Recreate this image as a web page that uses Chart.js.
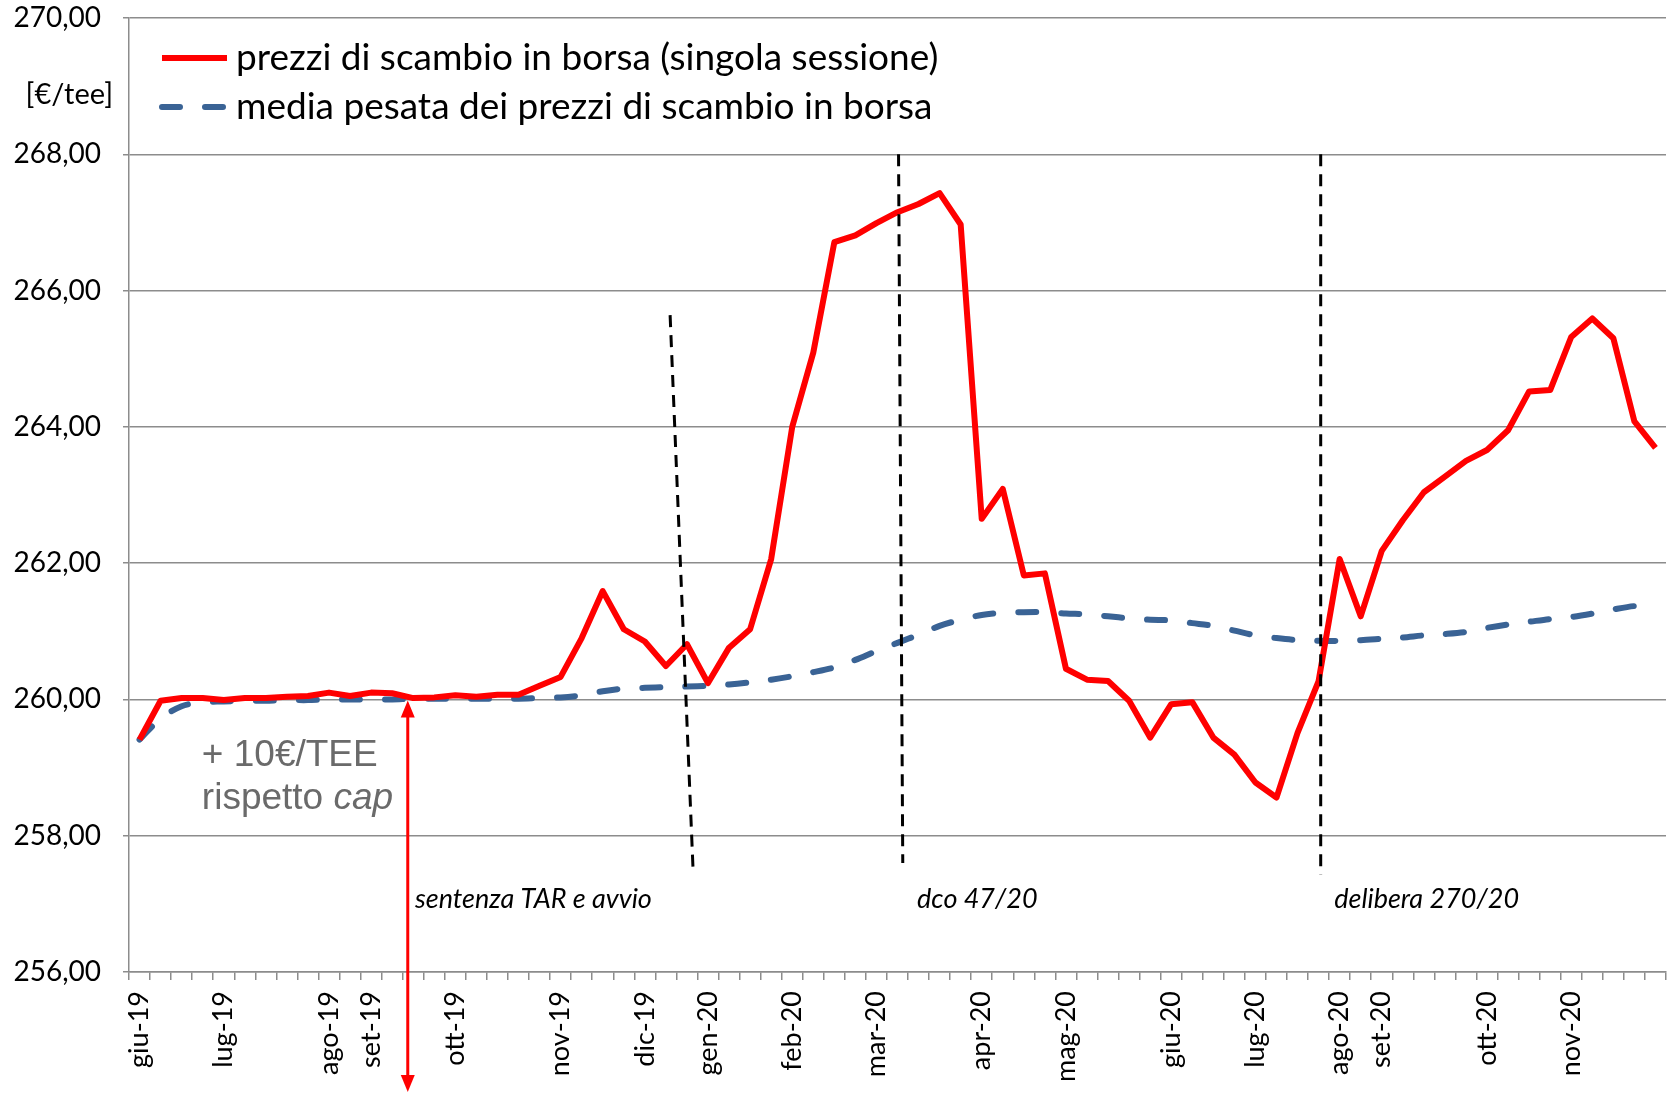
<!DOCTYPE html>
<html>
<head>
<meta charset="utf-8">
<script src="https://cdn.jsdelivr.net/npm/chart.js@4.4.1/dist/chart.umd.min.js"></script>
<style>
  html, body { margin: 0; padding: 0; background: #fff; }
  #wrap { width: 1669px; height: 1093px; }
</style>
</head>
<body>
<div id="wrap"><canvas id="tee"></canvas></div>
<script>
// sessioni di borsa TEE, giugno 2019 - dicembre 2020
const monthTicks = ['giu-19', 'lug-19', 'ago-19', 'set-19', 'ott-19', 'nov-19', 'dic-19', 'gen-20', 'feb-20',
  'mar-20', 'apr-20', 'mag-20', 'giu-20', 'lug-20', 'ago-20', 'set-20', 'ott-20', 'nov-20'];
const monthAt = [0, 4, 9, 11, 15, 20, 24, 27, 31, 35, 40, 44, 49, 53, 57, 59, 64, 68];
const sessionCount = 73;

const prezziSessione = [
  259.41, 259.98, 260.02, 260.02, 259.99, 260.02, 260.02, 260.04, 260.05, 260.10,
  260.05, 260.10, 260.09, 260.02, 260.03, 260.06, 260.04, 260.07, 260.07, 260.20,
  260.33, 260.90, 261.59, 261.03, 260.85, 260.49, 260.81, 260.24, 260.76, 261.03,
  262.06, 264.00, 265.09, 266.71, 266.81, 266.99, 267.15, 267.27, 267.43, 266.97,
  262.65, 263.09, 261.82, 261.85, 260.45, 260.29, 260.27, 259.98, 259.44, 259.93,
  259.96, 259.44, 259.19, 258.78, 258.56, 259.51, 260.27, 262.06, 261.22, 262.18,
  262.63, 263.04, 263.27, 263.50, 263.66, 263.95, 264.52, 264.54, 265.32, 265.59,
  265.30, 264.08, 263.69
];
const mediaPesata = [
  259.41, 259.72, 259.90, 259.96, 259.97, 259.98, 259.98, 259.99, 259.99, 260.00,
  260.00, 260.00, 260.00, 260.01, 260.01, 260.01, 260.01, 260.01, 260.01, 260.02,
  260.03, 260.06, 260.12, 260.16, 260.17, 260.18, 260.19, 260.20, 260.22, 260.25,
  260.29, 260.34, 260.40, 260.47, 260.58, 260.71, 260.83, 260.95, 261.08, 261.17,
  261.24, 261.27, 261.28, 261.28, 261.26, 261.25, 261.22, 261.19, 261.17, 261.16,
  261.12, 261.08, 261.01, 260.94, 260.90, 260.87, 260.86, 260.86, 260.87, 260.89,
  260.91, 260.94, 260.96, 260.99, 261.05, 261.10, 261.14, 261.18, 261.21, 261.26,
  261.32, 261.37, 261.38
];
const yMin = 256, yMax = 270, yStep = 2;

const labels = Array(sessionCount).fill('');
monthAt.forEach((k, i) => { labels[k] = monthTicks[i]; });

const GRID = '#8c8c8c';

function noPad(s) {
  s.paddingLeft = 0; s.paddingRight = 0; s.paddingTop = 0; s.paddingBottom = 0;
}

const overlay = {
  id: 'overlay',
  afterDraw(chart) {
    const { ctx, scales: { x, y }, chartArea } = chart;
    ctx.save();

    // linee verticali tratteggiate degli eventi
    ctx.strokeStyle = '#000';
    ctx.lineWidth = 3;
    ctx.setLineDash([12, 8]);
    [[25.2, 265.64, 26.3, 257.43], [36.05, 268, 36.25, 257.6], [56.1, 268, 56.1, 257.43]].forEach(([k1, v1, k2, v2]) => {
      ctx.beginPath();
      ctx.moveTo(x.getPixelForValue(k1), y.getPixelForValue(v1));
      ctx.lineTo(x.getPixelForValue(k2), y.getPixelForValue(v2));
      ctx.stroke();
    });
    ctx.setLineDash([]);

    // etichette eventi
    ctx.fillStyle = '#000';
    ctx.font = 'italic 27px Lato';
    ctx.textBaseline = 'alphabetic';
    ctx.textAlign = 'left';
    [['sentenza TAR e avvio', 13.08], ['dco 47/20', 36.93], ['delibera 270/20', 56.74]].forEach(([t, k]) => {
      ctx.fillText(t, x.getPixelForValue(k), y.getPixelForValue(256.94));
    });

    // freccia rossa
    const ax = x.getPixelForValue(12.74);
    const top = y.getPixelForValue(260) + 1;
    const bot = chart.height - 1;
    ctx.strokeStyle = '#ff0000';
    ctx.fillStyle = '#ff0000';
    ctx.lineWidth = 3;
    ctx.beginPath();
    ctx.moveTo(ax, top + 14);
    ctx.lineTo(ax, bot - 14);
    ctx.stroke();
    ctx.beginPath();
    ctx.moveTo(ax, top); ctx.lineTo(ax - 7, top + 17); ctx.lineTo(ax + 7, top + 17); ctx.closePath();
    ctx.fill();
    ctx.beginPath();
    ctx.moveTo(ax, bot); ctx.lineTo(ax - 7, bot - 17); ctx.lineTo(ax + 7, bot - 17); ctx.closePath();
    ctx.fill();

    // + 10€/TEE rispetto cap
    ctx.fillStyle = '#6a6a6a';
    ctx.font = '37px "Liberation Sans"';
    const tx = x.getPixelForValue(2.96);
    ctx.fillText('+ 10€/TEE', tx, y.getPixelForValue(259.03));
    const l2 = y.getPixelForValue(258.39);
    ctx.fillText('rispetto ', tx, l2);
    const w = ctx.measureText('rispetto ').width;
    ctx.font = 'italic 37px "Liberation Sans"';
    ctx.fillText('cap', tx + w, l2);

    // unità asse y
    ctx.fillStyle = '#000';
    ctx.font = '29px Lato';
    ctx.textAlign = 'right';
    ctx.textBaseline = 'middle';
    ctx.fillText('[€/tee]', chartArea.left - 16, y.getPixelForValue(268.87));

    // legenda
    ctx.textAlign = 'left';
    ctx.font = '37px Lato';
    chart.data.datasets.forEach((ds, i) => {
      const ly = chartArea.top + 40 + i * 49;
      ctx.strokeStyle = ds.borderColor;
      ctx.lineWidth = ds.borderWidth;
      ctx.lineCap = ds.borderCapStyle || 'butt';
      ctx.setLineDash(ds.borderDash || []);
      ctx.beginPath();
      ctx.moveTo(chartArea.left + 33, ly);
      ctx.lineTo(chartArea.left + 98, ly);
      ctx.stroke();
      ctx.setLineDash([]);
      ctx.fillStyle = '#000';
      ctx.fillText(ds.label, chartArea.left + 107, ly);
    });

    ctx.restore();
  }
};

new Chart(document.getElementById('tee'), {
  type: 'line',
  data: {
    labels,
    datasets: [
      {
        label: 'prezzi di scambio in borsa (singola sessione)',
        data: prezziSessione,
        borderColor: '#ff0000',
        borderWidth: 6,
        borderJoinStyle: 'round',
        pointRadius: 0,
        tension: 0,
      },
      {
        label: 'media pesata dei prezzi di scambio in borsa',
        data: mediaPesata,
        borderColor: '#3a6395',
        borderWidth: 6,
        borderDash: [18, 25],
        borderCapStyle: 'round',
        pointRadius: 0,
        tension: 0.3,
      }
    ]
  },
  options: {
    responsive: true,
    maintainAspectRatio: false,
    animation: false,
    layout: { padding: { top: 18, right: 3, left: 0, bottom: 0 } },
    plugins: { legend: { display: false }, tooltip: { enabled: false } },
    font: { family: 'Lato' },
    scales: {
      x: {
        offset: true,
        afterFit(s) { s.height = 121; noPad(s); },
        border: { display: true, color: GRID, width: 1.5 },
        grid: { drawOnChartArea: false, drawTicks: true, tickLength: 8, offset: true, color: GRID, lineWidth: 1.5 },
        ticks: {
          autoSkip: false, minRotation: 90, maxRotation: 90, padding: 11,
          color: '#000', font: { family: 'Lato', size: 27 }
        }
      },
      y: {
        min: yMin, max: yMax,
        afterFit(s) { s.width = 129; noPad(s); },
        border: { display: true, color: GRID, width: 1.5 },
        grid: { color: GRID, lineWidth: 1.5, tickLength: 6 },
        ticks: {
          stepSize: yStep, padding: 22, color: '#000',
          font: { family: 'Lato', size: 28 },
          callback: v => v.toFixed(2).replace('.', ',')
        }
      }
    }
  },
  plugins: [overlay]
});
</script>
</body>
</html>
